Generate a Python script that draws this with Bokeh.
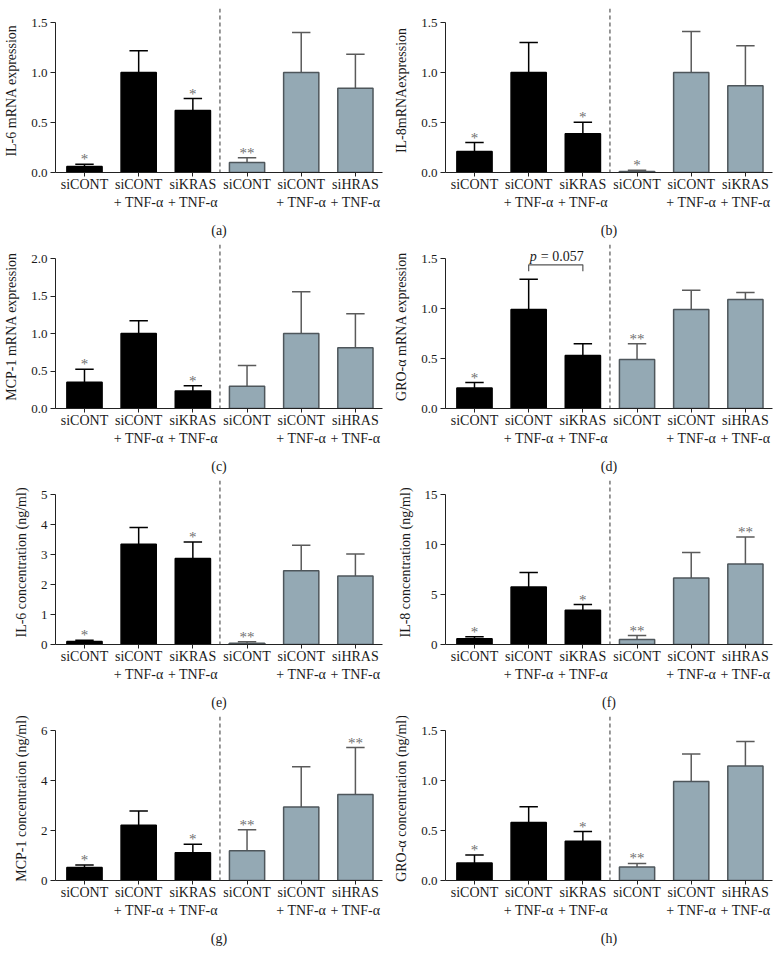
from bokeh.plotting import figure
from bokeh.layouts import column, row
from bokeh.models import ColumnDataSource, FixedTicker, Span
from bokeh.core.properties import value
from bokeh.embed import file_html
from bokeh.resources import INLINE

# ---------------- data ----------------
positions = [1, 2, 3, 4, 5, 6]
labels_hras = ["siCONT", "siCONT\n+ TNF-α", "siKRAS\n+ TNF-α", "siCONT", "siCONT\n+ TNF-α", "siHRAS\n+ TNF-α"]
labels_b = ["siCONT", "siCONT\n+ TNF-α", "siKRAS\n+ TNF-α", "siCONT", "siCONT\n+ TNF-α", "siKRAS\n+ TNF-α"]
group = ["kras", "kras", "kras", "hras", "hras", "hras"]

il6_mrna_mean = [0.06, 1.00, 0.62, 0.10, 1.00, 0.843]
il6_mrna_sem = [0.023, 0.217, 0.12, 0.047, 0.40, 0.34]
il6_mrna_sig = ["*", "", "*", "**", "", ""]

il8_mrna_mean = [0.21, 1.00, 0.387, 0.01, 1.00, 0.867]
il8_mrna_sem = [0.09, 0.30, 0.116, 0.013, 0.41, 0.40]
il8_mrna_sig = ["*", "", "*", "*", "", ""]

mcp1_mrna_mean = [0.35, 1.00, 0.233, 0.296, 1.00, 0.81]
mcp1_mrna_sem = [0.175, 0.17, 0.072, 0.278, 0.556, 0.455]
mcp1_mrna_sig = ["*", "", "*", "", "", ""]

gro_mrna_mean = [0.204, 0.99, 0.531, 0.491, 0.99, 1.089]
gro_mrna_sem = [0.056, 0.303, 0.117, 0.157, 0.193, 0.071]
gro_mrna_sig = ["*", "", "", "**", "", ""]

il6_conc_mean = [0.10, 3.34, 2.87, 0.045, 2.46, 2.28]
il6_conc_sem = [0.045, 0.56, 0.55, 0.045, 0.85, 0.74]
il6_conc_sig = ["*", "", "*", "**", "", ""]

il8_conc_mean = [0.57, 5.74, 3.42, 0.50, 6.64, 8.05]
il8_conc_sem = [0.20, 1.47, 0.57, 0.40, 2.55, 2.69]
il8_conc_sig = ["*", "", "*", "**", "", "**"]

mcp1_conc_mean = [0.52, 2.21, 1.11, 1.19, 2.94, 3.44]
mcp1_conc_sem = [0.10, 0.57, 0.34, 0.84, 1.61, 1.88]
mcp1_conc_sig = ["*", "", "*", "**", "", "**"]

gro_conc_mean = [0.174, 0.58, 0.393, 0.134, 0.99, 1.144]
gro_conc_sem = [0.081, 0.158, 0.097, 0.037, 0.275, 0.245]
gro_conc_sig = ["*", "", "*", "**", "", ""]

ticks_a = [0.0, 0.5, 1.0, 1.5]
ticks_c = [0.0, 0.5, 1.0, 1.5, 2.0]
ticks_e = [0, 1, 2, 3, 4, 5]
ticks_f = [0, 5, 10, 15]
ticks_g = [0, 2, 4, 6]

pvalue_text = "= 0.057"
pvalue_pair = [2, 3]
pvalue_level = 1.437

# ---------------- style ----------------
FONT = "Liberation Serif"
BLACK = "#000000"
GREY_FILL = "#94a9b4"
GREY_LINE = "#4e565b"
ERR_GREY = "#5a5a5a"
STAR = "#707070"
TXT = "#1a1a1a"

FRAME_H = 164
TICK_SPAN = 150.0


def panel(mean, sem, sig, labels, ylabel, ticks, fmt, tag, col, first_row=False, last_row=False):
    top_val = ticks[-1]
    ymax = top_val * FRAME_H / TICK_SPAN
    btm = 75 if last_row else 72
    top = 8 if first_row else 0
    h = FRAME_H + btm + top
    if col == 0:
        w, bl, br = 8 + 383, 55, 9
    else:
        w, bl, br = 384, 54, 3
    p = figure(width=w, height=h, x_range=(0.465, 6.5), y_range=(0, ymax),
               output_backend="svg", toolbar_location=None, title=None,
               min_border_left=bl, min_border_right=br, min_border_top=top,
               min_border_bottom=btm)
    p.grid.visible = False
    p.outline_line_color = None
    p.background_fill_color = None
    p.border_fill_color = None

    fills = [BLACK if g == "kras" else GREY_FILL for g in group]
    lines = [BLACK if g == "kras" else GREY_LINE for g in group]
    errc = [BLACK if g == "kras" else ERR_GREY for g in group]
    upper = [m + s for m, s in zip(mean, sem)]
    src = ColumnDataSource(dict(x=positions, top=mean, up=upper, fill=fills,
                                line=lines, errc=errc, sig=sig,
                                xl=[x - 0.17 for x in positions],
                                xr=[x + 0.17 for x in positions]))
    p.segment(x0="x", y0="top", x1="x", y1="up", line_color="errc", line_width=1.5, source=src)
    p.segment(x0="xl", y0="up", x1="xr", y1="up", line_color="errc", line_width=1.5, source=src)
    p.vbar(x="x", top="top", bottom=0, width=0.65, fill_color="fill",
           line_color="line", line_width=1.5, source=src)
    p.text(x="x", y="up", text="sig", text_align="center", text_baseline="alphabetic",
           y_offset=-5, text_font=value(FONT), text_font_size="15px",
           text_color=STAR, source=src)

    p.add_layout(Span(location=3.5, dimension="height", line_color="#555555",
                      line_dash="4 3", line_width=1.2))

    xa = p.xaxis[0]
    xa.ticker = FixedTicker(ticks=positions)
    xa.major_label_overrides = {x: l for x, l in zip(positions, labels)}
    xa.major_label_text_font = FONT
    xa.major_label_text_font_size = "14px"
    xa.major_label_text_color = TXT
    xa.major_tick_out = 4
    xa.major_tick_in = 0
    xa.major_label_standoff = 0
    xa.minor_tick_line_color = None
    xa.axis_line_color = "#222222"
    xa.major_tick_line_color = "#222222"
    xa.axis_label = tag
    xa.axis_label_text_font = FONT
    xa.axis_label_text_font_style = "normal"
    xa.axis_label_text_font_size = "14px"
    xa.axis_label_text_color = TXT
    xa.axis_label_standoff = 10

    ya = p.yaxis[0]
    ya.ticker = FixedTicker(ticks=ticks)
    ya.major_label_overrides = {t: (fmt % t) for t in ticks}
    ya.bounds = (0, top_val)
    ya.major_label_text_font = FONT
    ya.major_label_text_font_size = "13px"
    ya.major_label_text_color = TXT
    ya.major_tick_out = 5
    ya.major_tick_in = 0
    ya.major_label_standoff = 3
    ya.minor_tick_line_color = None
    ya.axis_line_color = "#222222"
    ya.major_tick_line_color = "#222222"
    ya.axis_label = ylabel
    ya.axis_label_text_font = FONT
    ya.axis_label_text_font_style = "normal"
    ya.axis_label_text_font_size = "14px"
    ya.axis_label_text_color = TXT
    ya.axis_label_standoff = 9
    return p


pa = panel(il6_mrna_mean, il6_mrna_sem, il6_mrna_sig, labels_hras, "IL-6 mRNA expression", ticks_a, "%.1f", "(a)", 0, first_row=True)
pb = panel(il8_mrna_mean, il8_mrna_sem, il8_mrna_sig, labels_b, "IL-8mRNAexpression", ticks_a, "%.1f", "(b)", 1, first_row=True)
pc = panel(mcp1_mrna_mean, mcp1_mrna_sem, mcp1_mrna_sig, labels_hras, "MCP-1 mRNA expression", ticks_c, "%.1f", "(c)", 0)
pd = panel(gro_mrna_mean, gro_mrna_sem, gro_mrna_sig, labels_hras, "GRO-α mRNA expression", ticks_a, "%.1f", "(d)", 1)
pe = panel(il6_conc_mean, il6_conc_sem, il6_conc_sig, labels_hras, "IL-6 concentration (ng/ml)", ticks_e, "%d", "(e)", 0)
pf = panel(il8_conc_mean, il8_conc_sem, il8_conc_sig, labels_hras, "IL-8 concentration (ng/ml)", ticks_f, "%d", "(f)", 1)
pg = panel(mcp1_conc_mean, mcp1_conc_sem, mcp1_conc_sig, labels_hras, "MCP-1 concentration (ng/ml)", ticks_g, "%d", "(g)", 0, last_row=True)
ph = panel(gro_conc_mean, gro_conc_sem, gro_conc_sig, labels_hras, "GRO-α concentration (ng/ml)", ticks_a, "%.1f", "(h)", 1, last_row=True)

# p-value bracket in panel (d)
x0, x1 = pvalue_pair
pd.line(x=[x0, x0, x1, x1], y=[pvalue_level - 0.065, pvalue_level, pvalue_level, pvalue_level - 0.065],
        line_color="#555555", line_width=1.2)
pd.text(x=[(x0 + x1) / 2], y=[pvalue_level], text=["p"], text_align="left", text_baseline="alphabetic",
        x_offset=-26, y_offset=-8, text_font=value(FONT), text_font_style="italic",
        text_font_size="14px", text_color=TXT)
pd.text(x=[(x0 + x1) / 2], y=[pvalue_level], text=[pvalue_text], text_align="left", text_baseline="alphabetic",
        x_offset=-15, y_offset=-8, text_font=value(FONT), text_font_size="14px", text_color=TXT)

layout = column(row(pa, pb), row(pc, pd), row(pe, pf), row(pg, ph))
open("out.html", "w").write(file_html(layout, INLINE))
